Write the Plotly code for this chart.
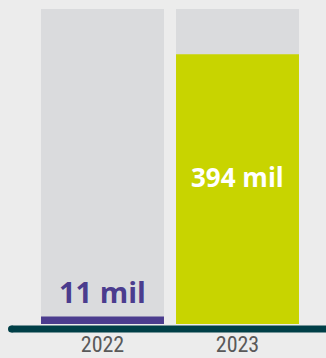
import plotly.graph_objects as go

categories = ["2022", "2023"]
values = [11, 394]
labels = ["11 mil", "394 mil"]
scale_max = 460
bar_colors = ["#4b3c8e", "#c8d400"]
label_colors = ["#4b3c8e", "#ffffff"]

W, H = 326, 358
ml, mr, mt, mb = 35, 21, 9, 34
pw = W - ml - mr
ph = H - mt - mb

fig = go.Figure()
fig.add_trace(go.Bar(x=categories, y=[scale_max] * len(categories),
                     marker=dict(color="#dadbdd", line=dict(width=0)),
                     hoverinfo="skip", showlegend=False))
fig.add_trace(go.Bar(x=categories, y=values,
                     marker=dict(color=bar_colors, line=dict(width=0)),
                     showlegend=False))

# value labels
for i, (c, v, t) in enumerate(zip(categories, values, labels)):
    if v / scale_max < 0.2:
        fig.add_annotation(x=i, y=v, text=f"<b>{t}</b>", showarrow=False,
                           xref="x", yref="y",
                           yanchor="bottom", yshift=3,
                           font=dict(family="Open Sans", size=29, color=label_colors[i]))
    else:
        fig.add_annotation(x=i, y=v / 2, text=f"<b>{t}</b>", showarrow=False,
                           xref="x", yref="y",
                           yanchor="middle", yshift=12,
                           font=dict(family="Open Sans", size=26, color=label_colors[i]))

# baseline with rounded left end
axis_color = "#003f47"
y_top = (0 - 1.5) / ph
y_bot = (0 - 8.5) / ph
fig.add_shape(type="rect", xref="paper", yref="paper",
              x0=(11.5 - ml) / pw, x1=(W + 5 - ml) / pw, y0=y_bot, y1=y_top,
              fillcolor=axis_color, line=dict(width=0), layer="above")
fig.add_shape(type="circle", xref="paper", yref="paper",
              x0=(8 - ml) / pw, x1=(15 - ml) / pw, y0=y_bot, y1=y_top,
              fillcolor=axis_color, line=dict(width=0), layer="above")

fig.update_layout(
    width=W, height=H,
    margin=dict(l=ml, r=mr, t=mt, b=mb, pad=0, autoexpand=False),
    paper_bgcolor="#ececec", plot_bgcolor="#ececec",
    barmode="overlay", bargap=0.089,
    font=dict(family="Open Sans"),
)
fig.update_xaxes(type="category", showgrid=False, zeroline=False, showline=False, ticks="",
                 tickfont=dict(family="Liberation Sans Narrow, Roboto Condensed, Roboto",
                               size=22, color="#595959"),
                 automargin=False, ticklabelstandoff=5, range=[-0.5, 1.5])
fig.update_yaxes(visible=False, range=[0, scale_max], showgrid=False, zeroline=False,
                 automargin=False)

fig.write_html("out.html")
